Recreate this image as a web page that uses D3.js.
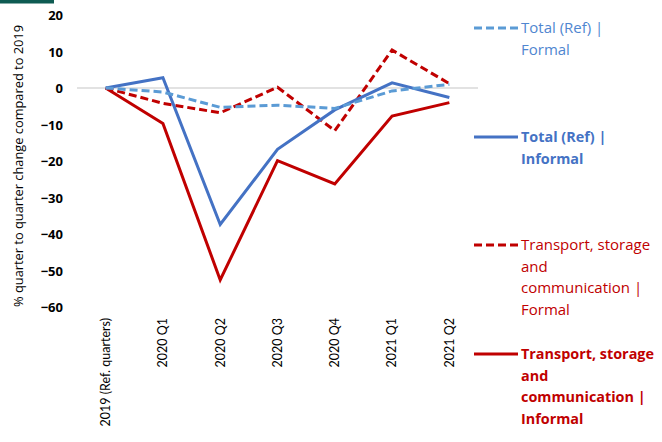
<!DOCTYPE html>
<html><head><meta charset="utf-8">
<script src="https://cdn.jsdelivr.net/npm/d3@7"></script>
<style>body{margin:0;background:#fff}svg{display:block}</style>
</head><body>
<svg id="c" width="662" height="442"></svg>
<script>
const categories = ["2019 (Ref. quarters)","2020 Q1","2020 Q2","2020 Q3","2020 Q4","2021 Q1","2021 Q2"];
const totalFormal = [0,-1.1,-5.3,-4.7,-5.6,-0.8,1.0];
const totalInformal = [0,2.8,-37.4,-16.8,-6.0,1.4,-2.6];
const transportFormal = [0,-4.2,-6.8,0.2,-11.7,10.4,1.2];
const transportInformal = [0,-9.7,-52.6,-19.9,-26.3,-7.7,-4.0];
const yTicks = [20,10,0,-10,-20,-30,-40,-50,-60];
const legendLabels = [
  ["Total (Ref) |","Formal"],
  ["Total (Ref) |","Informal"],
  ["Transport, storage","and","communication |","Formal"],
  ["Transport, storage","and","communication |","Informal"]
];

const FONT = "'Open Sans', 'Liberation Sans', sans-serif";
const svg = d3.select("#c");
const x = d3.scaleBand().domain(categories).range([77,478]);
const y = d3.scaleLinear().domain([-60,20]).range([307,15]);

svg.append("rect").attr("x",0).attr("y",0).attr("width",54).attr("height",3.5).attr("fill","#0e5b52");

// zero line
svg.append("line").attr("x1",77).attr("x2",478).attr("y1",y(0)).attr("y2",y(0))
  .attr("stroke","#d9d9d9").attr("stroke-width",1.3);

// y axis
const yAxis = d3.axisLeft(y).tickValues(yTicks).tickSize(0).tickPadding(0);
const ga = svg.append("g").attr("transform","translate(63,0)").call(yAxis);
ga.select(".domain").remove();
ga.selectAll("text").attr("font-family",FONT).attr("font-size",13).attr("font-weight","bold").attr("fill","#000").attr("dy","0.35em");

// y title
svg.append("text").attr("transform","translate(23,166) rotate(-90)")
  .attr("text-anchor","middle").attr("font-family",FONT).attr("font-size",12).attr("fill","#000")
  .attr("textLength",282).attr("lengthAdjust","spacingAndGlyphs")
  .text("% quarter to quarter change compared to 2019");

// x labels
const xAxis = d3.axisBottom(x).tickSize(0).tickPadding(0);
const gx = svg.append("g").attr("transform","translate(0,318)").call(xAxis);
gx.select(".domain").remove();
gx.selectAll("text").attr("font-family","Lato, 'Open Sans', sans-serif").attr("font-size",12.5).attr("fill","#000")
  .attr("transform","rotate(-90)").attr("text-anchor","end").attr("x",0).attr("y",0).attr("dy","0.35em").attr("dx",0);

const series = [
  {v: totalFormal, color:"#5b9bd5", dash:"8,4", bold:false, tcolor:"#4f86d0"},
  {v: totalInformal, color:"#4472c4", dash:null, bold:true, tcolor:"#4472c4"},
  {v: transportFormal, color:"#c00000", dash:"8,4", bold:false, tcolor:"#c00000"},
  {v: transportInformal, color:"#c00000", dash:null, bold:true, tcolor:"#c00000"}
];
const line = d3.line().x((d,i)=>x(categories[i])+x.bandwidth()/2).y(d=>y(d));
const drawOrder = [3,2,1,0];
drawOrder.forEach(k=>{
  const s = series[k];
  svg.append("path").attr("d",line(s.v)).attr("fill","none").attr("stroke",s.color)
    .attr("stroke-width",3).attr("stroke-linejoin","miter").attr("stroke-dasharray",s.dash);
});

// legend
const legY = [28,137,245,354];
series.forEach((s,k)=>{
  const g = svg.append("g");
  g.append("line").attr("x1",474).attr("x2",518).attr("y1",legY[k]).attr("y2",legY[k])
    .attr("stroke",s.color).attr("stroke-width",3).attr("stroke-dasharray",s.dash);
  legendLabels[k].forEach((t,j)=>{
    g.append("text").attr("x",521).attr("y",legY[k]+j*21.6).attr("dy","0.35em")
      .attr("font-family",FONT).attr("font-size",s.bold?14.4:15).attr("font-weight",s.bold?"bold":"normal")
      .attr("fill",s.tcolor).text(t);
  });
});
</script>
</body></html>
